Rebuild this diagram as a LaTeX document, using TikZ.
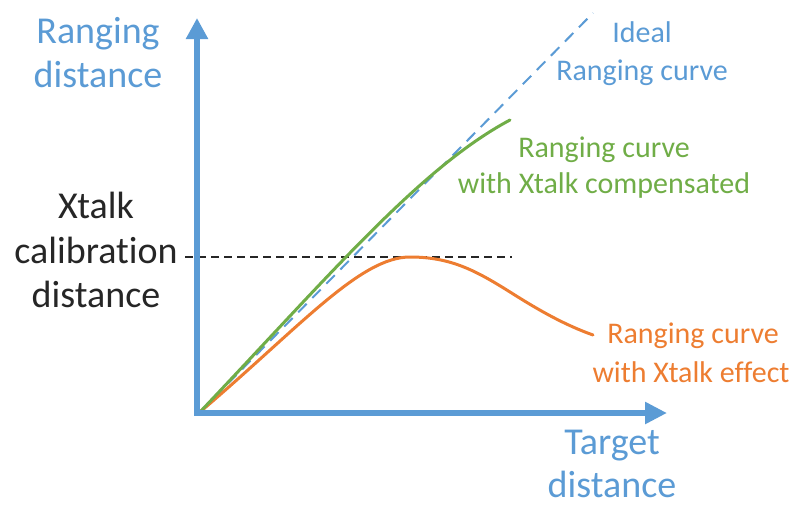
\documentclass[tikz,border=0pt]{standalone}
\usepackage{fontspec}
\setmainfont[Ligatures=NoCommon]{Carlito}
\usetikzlibrary{arrows.meta}
\definecolor{axblue}{RGB}{91,155,213}
\definecolor{cgreen}{RGB}{112,173,71}
\definecolor{corange}{RGB}{237,125,49}
\definecolor{tdark}{RGB}{38,38,38}
\begin{document}
\begin{tikzpicture}[x=1pt,y=-1pt,
  axis/.style={draw=axblue,line width=6pt,{Triangle[length=21pt,width=21pt]}-{Triangle[length=22pt,width=21pt]}},
  big/.style={font=\fontsize{38}{45}\selectfont,anchor=base,inner sep=0pt},
  small/.style={font=\fontsize{30}{37}\selectfont,anchor=base,inner sep=0pt},
  curve/.style={line width=3pt,line cap=round},
  ideal/.style={draw=axblue,line width=2pt,dash pattern=on 12pt off 8pt},
  calib/.style={draw=tdark,line width=2pt,dash pattern=on 8pt off 5pt}]
\useasboundingbox (0,0) rectangle (795,506);
% coordinates
\coordinate (O) at (200,412);
\coordinate (I) at (593,13);
\coordinate (G) at (510,120);
\coordinate (P) at (410,257);
\coordinate (Q) at (510,292);
\coordinate (E) at (593,335);
\coordinate (C1) at (185,257);
\coordinate (C2) at (512,257);
\coordinate (YT) at (197,18);
\coordinate (K) at (197,413);
\coordinate (XT) at (667,413);
% guide lines
\draw[calib] (C1) -- (C2);
\draw[ideal] (O) -- (I);
% curves
\draw[curve,draw=corange] (O) .. controls (300,327) and (360,257) .. (P)
  .. controls (450,257) and (475,270) .. (Q)
  .. controls (540,311) and (565,325) .. (E);
\draw[curve,draw=cgreen] (O) .. controls (330,275) and (420,168) .. (G);
% axes
\draw[axis] (YT) -- (K) -- (XT);
% labels
\node[big,text=axblue] (yl1) at (98,43) {Ranging};
\node[big,text=axblue] (yl2) at (98,87) {distance};
\node[big,text=axblue] (xl1) at (612,454) {Target};
\node[big,text=axblue] (xl2) at (612,497) {distance};
\node[big,text=tdark] (cl1) at (96,218) {Xtalk};
\node[big,text=tdark] (cl2) at (96,263) {calibration};
\node[big,text=tdark] (cl3) at (96,307) {distance};
\node[small,text=axblue] (il1) at (642,42) {Ideal};
\node[small,text=axblue] (il2) at (642,80) {Ranging curve};
\node[small,text=cgreen] (gl1) at (604,157) {Ranging curve};
\node[small,text=cgreen] (gl2) at (604,193) {with Xtalk compensated};
\node[small,text=corange] (ol1) at (693,343) {Ranging curve};
\node[small,text=corange] (ol2) at (691,382) {with Xtalk effect};
\end{tikzpicture}
\end{document}
